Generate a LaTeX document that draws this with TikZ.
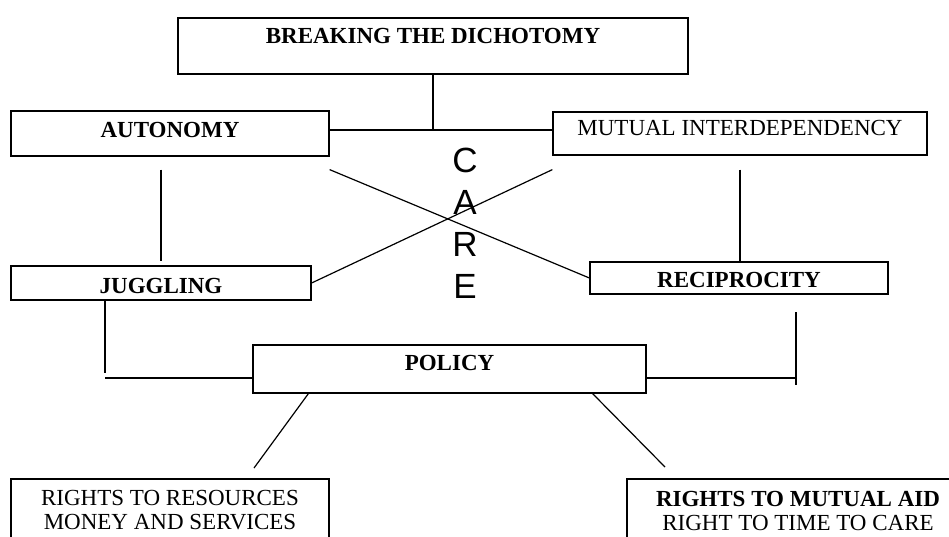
\documentclass[tikz,border=0pt]{standalone}
\usepackage{fontspec}
\setmainfont{Liberation Serif}
\newfontfamily\carefont{Liberation Sans}
\usetikzlibrary{positioning}

\tikzset{
    box/.style={draw, line width=1.2pt, inner sep=0pt, anchor=base,
                font=\fontsize{23}{24}\selectfont},
    wire/.style={line width=1.2pt},
    careletter/.style={anchor=base, inner sep=0pt, font=\carefont\fontsize{35}{42}\selectfont}
}

\begin{document}
\begin{tikzpicture}[x=1pt,y=-1pt]
    \useasboundingbox (0,0) rectangle (949,536);

    % Boxes
    \node[box, minimum width=510pt, text height=25pt, text depth=31pt] (top) at (433,43) {\textbf{BREAKING THE DICHOTOMY}};
    \node[box, minimum width=318pt, text height=26pt, text depth=19pt] (auto) at (170,137) {\textbf{AUTONOMY}};
    \node[box, minimum width=374pt, text height=23pt, text depth=20pt] (mutual) at (740,135) {MUTUAL INTERDEPENDENCY};
    \node[box, minimum width=300pt, text height=27pt, text depth=7pt] (jug) at (161,293) {\textbf{JUGGLING}};
    \node[box, minimum width=298pt, text height=25pt, text depth=7pt] (recip) at (739,287) {\textbf{RECIPROCITY}};
    \node[box, minimum width=393pt, text height=25pt, text depth=23pt] (pol) at (449.5,370) {\textbf{POLICY}};
    \node[box, minimum width=318pt, text height=26pt, text depth=70pt] (res) at (170,505)
        {\begin{tabular}[t]{@{}c@{}}RIGHTS TO RESOURCES\\MONEY AND SERVICES\end{tabular}};
    \node[box, minimum width=342pt, text height=27pt, text depth=70pt] (aid) at (798,506)
        {\begin{tabular}[t]{@{}c@{}}\textbf{RIGHTS TO MUTUAL AID}\\RIGHT TO TIME TO CARE\end{tabular}};

    % CARE down the middle
    \foreach \l [count=\i] in {C,A,R,E}
        \node[careletter] (care\i) at (465,{172+42*(\i-1)}) {\l};

    % Joints
    \coordinate (hub) at (433,130);
    \coordinate (jl) at (105,378);
    \coordinate (rl) at (796,378);
    \coordinate (resend) at (254,468);
    \coordinate (aidend) at (665,467);

    % Top branch
    \draw[wire] (top.south) -- (hub);
    \draw[wire] (auto.east |- hub) -- (mutual.west |- hub);

    % Sides
    \draw[wire, shorten <=13pt, shorten >=4pt] (jug.north |- auto.south) -- (jug.north);
    \draw[wire, shorten <=14pt] (mutual.south) -- (mutual.south |- recip.north);

    % Cross
    \draw[wire] ([yshift=-13pt]auto.south east) -- (recip.west);
    \draw[wire] (jug.east) -- ([yshift=-14pt]mutual.south west);

    % Into policy
    \draw[wire] (jug.south -| jl) -- ([yshift=5pt]jl);
    \draw[wire] (jl) -- (jl -| pol.west);
    \draw[wire] (pol.east |- rl) -- (rl);
    \draw[wire] ([yshift=66pt]rl) -- ([yshift=-7pt]rl);

    % Out of policy
    \draw[wire] ([xshift=56pt]pol.south west) -- (resend);
    \draw[wire] ([xshift=-54pt]pol.south east) -- (aidend);
\end{tikzpicture}
\end{document}
